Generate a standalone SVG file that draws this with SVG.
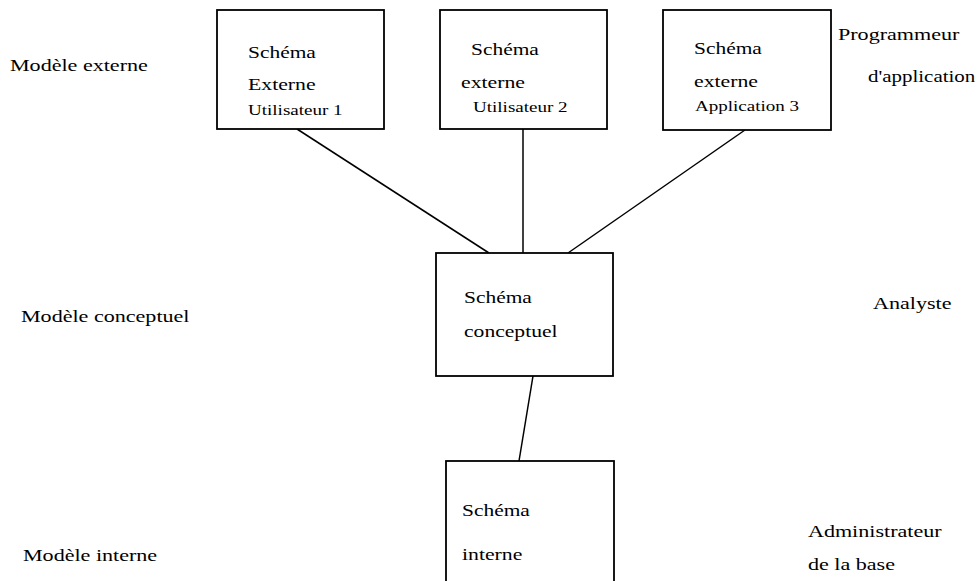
<svg xmlns="http://www.w3.org/2000/svg" width="980" height="581" viewBox="0 0 980 581">
  <style>
    .box { fill: #ffffff; stroke: #000000; stroke-width: 1.8; }
    .link { stroke: #000000; stroke-width: 1.5; fill: none; }
    text { font-family: "Liberation Serif", "Times New Roman", serif; fill: #000000; }
    .t { font-size: 16px; }
    .s { font-size: 14px; }
  </style>
  <rect width="980" height="581" fill="#ffffff"/>

  <!-- level labels (left) -->
  <g id="labels-left">
    <text class="t" transform="translate(10,71) scale(1.38,1)">Modèle externe</text>
    <text class="t" transform="translate(21,322) scale(1.38,1)">Modèle conceptuel</text>
    <text class="t" transform="translate(23,561) scale(1.38,1)">Modèle interne</text>
  </g>

  <!-- role labels (right) -->
  <g id="labels-right">
    <text class="t" transform="translate(838,40) scale(1.38,1)">Programmeur</text>
    <text class="t" transform="translate(868,82) scale(1.31,1)">d'application</text>
    <text class="t" transform="translate(873,309) scale(1.38,1)">Analyste</text>
    <text class="t" transform="translate(808,537) scale(1.38,1)">Administrateur</text>
    <text class="t" transform="translate(808,570) scale(1.38,1)">de la base</text>
  </g>

  <!-- connectors -->
  <g id="connectors">
    <line class="link" x1="297" y1="129" x2="489" y2="253"/>
    <line class="link" x1="523" y1="129" x2="523" y2="253"/>
    <line class="link" x1="745" y1="130" x2="568" y2="253"/>
    <line class="link" x1="533" y1="376" x2="519" y2="461"/>
  </g>

  <g id="schema-externe-1">
    <rect class="box" x="217" y="10" width="167" height="119"/>
    <text class="t" transform="translate(248,58) scale(1.34,1)">Schéma</text>
    <text class="t" transform="translate(248,90) scale(1.36,1)">Externe</text>
    <text class="s" transform="translate(248,115) scale(1.36,1)">Utilisateur 1</text>
  </g>

  <g id="schema-externe-2">
    <rect class="box" x="440" y="10" width="167" height="119"/>
    <text class="t" transform="translate(471,55) scale(1.34,1)">Schéma</text>
    <text class="t" transform="translate(461,88) scale(1.36,1)">externe</text>
    <text class="s" transform="translate(473,112) scale(1.36,1)">Utilisateur 2</text>
  </g>

  <g id="schema-externe-3">
    <rect class="box" x="663" y="10" width="168" height="120"/>
    <text class="t" transform="translate(694,54) scale(1.34,1)">Schéma</text>
    <text class="t" transform="translate(694,87) scale(1.36,1)">externe</text>
    <text class="s" transform="translate(695,111) scale(1.36,1)">Application 3</text>
  </g>

  <g id="schema-conceptuel">
    <rect class="box" x="436" y="253" width="177" height="123"/>
    <text class="t" transform="translate(464,303) scale(1.34,1)">Schéma</text>
    <text class="t" transform="translate(464,337) scale(1.35,1)">conceptuel</text>
  </g>

  <g id="schema-interne">
    <rect class="box" x="446" y="461" width="168" height="140"/>
    <text class="t" transform="translate(462,516) scale(1.34,1)">Schéma</text>
    <text class="t" transform="translate(462,560) scale(1.36,1)">interne</text>
  </g>
</svg>
